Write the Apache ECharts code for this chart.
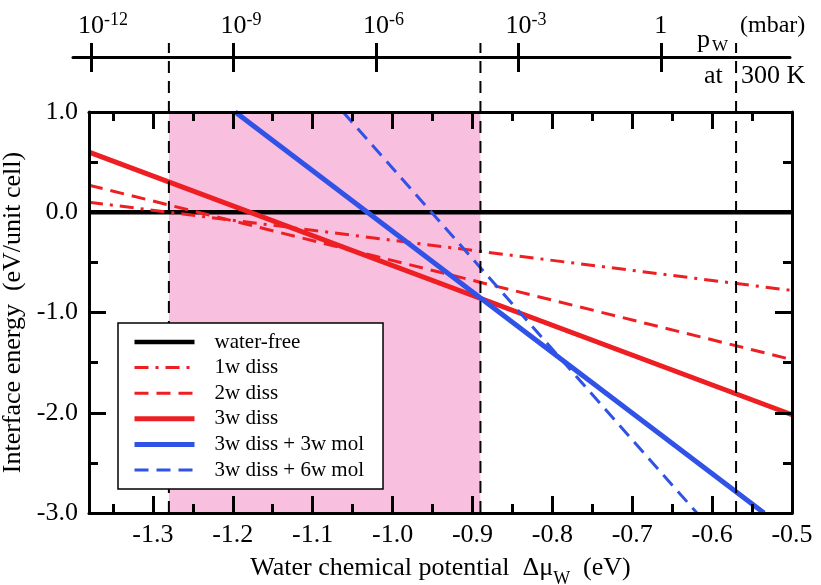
<!DOCTYPE html>
<html><head><meta charset="utf-8">
<script src="https://cdn.jsdelivr.net/npm/echarts@6/dist/echarts.min.js"></script>
<style>html,body{margin:0;padding:0;background:#fff}#c{width:821px;height:585px}</style>
</head><body><div id="c"></div>
<script>
// ---- data ----
const xRange = [-1.38, -0.5];
const yRange = [-3, 1];
const xMajorTicks = [-1.3, -1.2, -1.1, -1.0, -0.9, -0.8, -0.7, -0.6, -0.5];
const xMinorTicks = [-1.35, -1.25, -1.15, -1.05, -0.95, -0.85, -0.75, -0.65, -0.55];
const yMajorTicks = [1, 0, -1, -2, -3];
const yMinorTicks = [0.5, -0.5, -1.5, -2.5];
const pressureRange = [-12.38, 2.72];          // log10(p_w / mbar) at 300 K
const pressureExponents = [-12, -9, -6, -3, 0];
const stableRange = [-1.28, -0.89];
const markerLines = [-1.28, -0.89, -0.57];
const seriesNames = ['water-free', '1w diss', '2w diss', '3w diss', '3w diss + 3w mol', '3w diss + 6w mol'];
const waterFree = [[-1.38, 0], [-0.5, 0]];
const diss1 = [[-1.38, 0.10], [-0.5, -0.78]];
const diss2 = [[-1.38, 0.27], [-0.5, -1.47]];
const diss3 = [[-1.38, 0.60], [-0.5, -2.02]];
const diss3mol3 = [[-1.197, 1.0], [-0.535, -3.0]];
const diss3mol6 = [[-1.062, 1.0], [-0.619, -3.0]];

// ---- styling ----
const FONT = 'Liberation Serif';
const RED = '#ee1f23';
const BLUE = '#3052e6';
const PINK = '#f9bfdf';

const chart = echarts.init(document.getElementById('c'), null, {renderer: 'canvas'});

function xAx(o) {
  return Object.assign({
    type: 'value', gridIndex: 0, min: xRange[0], max: xRange[1], z: 5,
    splitLine: {show: false},
    axisLine: {show: false, onZero: false, lineStyle: {color: '#000', width: 3}},
    axisTick: {show: true, inside: true, length: 17, lineStyle: {color: '#000', width: 3}},
    axisLabel: {show: false}
  }, o);
}
function yAx(o) {
  return Object.assign({
    type: 'value', gridIndex: 0, min: yRange[0], max: yRange[1], z: 5,
    splitLine: {show: false},
    axisLine: {show: false, onZero: false, lineStyle: {color: '#000', width: 3}},
    axisTick: {show: true, inside: true, length: 17, lineStyle: {color: '#000', width: 3}},
    axisLabel: {show: false}
  }, o);
}
const lineTick = (len, vals, inside) => ({show: true, inside: inside !== false, length: len, customValues: vals, lineStyle: {color: '#000', width: 3}});

const option = {
  backgroundColor: '#fff',
  animation: false,
  grid: [
    {left: 89, right: 29, top: 112, bottom: 72, containLabel: false, outerBoundsMode: 'none'},
    {left: 73, right: 31, top: 57, height: 1, containLabel: false, outerBoundsMode: 'none'},
    {left: 89, right: 29, top: 43, bottom: 72, containLabel: false, outerBoundsMode: 'none'}
  ],
  xAxis: [
    xAx({position: 'bottom', axisLine: {show: true, onZero: false, lineStyle: {color: '#000', width: 3}},
      axisTick: lineTick(17, xMajorTicks),
      axisLabel: {show: true, customValues: xMajorTicks, formatter: v => v.toFixed(1), fontFamily: FONT, fontSize: 26, lineHeight: 26, color: '#000', margin: 9},
      name: '{a|Water chemical potential  Δμ}{s|W}{a|  (eV)}',
      nameLocation: 'middle', nameGap: 35,
      nameTextStyle: {rich: {
        a: {fontFamily: FONT, fontSize: 26, lineHeight: 40, color: '#000'},
        s: {fontFamily: FONT, fontSize: 18, lineHeight: 18, verticalAlign: 'bottom', color: '#000'}
      }}
    }),
    xAx({position: 'bottom', axisTick: lineTick(9, xMinorTicks)}),
    xAx({position: 'top', axisLine: {show: true, onZero: false, lineStyle: {color: '#000', width: 3}}, axisTick: lineTick(17, xMajorTicks)}),
    xAx({position: 'top', axisTick: lineTick(9, xMinorTicks)}),
    // pressure axis (top)
    {
      type: 'value', gridIndex: 1, position: 'top', min: pressureRange[0], max: pressureRange[1],
      splitLine: {show: false},
      axisLine: {show: true, onZero: false, lineStyle: {color: '#000', width: 3}},
      axisTick: lineTick(14, pressureExponents, false),
      axisLabel: {
        show: true, customValues: pressureExponents, margin: 16,
        formatter: v => {
          const e = Math.round(v);
          if (e === 0) return '{b|1}';
          const s = String(e);
          return '{' + (s.length === 3 ? 'p3' : 'p2') + '|10}{sup|' + s + '}';
        },
        rich: {
          b: {fontFamily: FONT, fontSize: 26, lineHeight: 30, color: '#000'},
          p3: {fontFamily: FONT, fontSize: 26, lineHeight: 30, color: '#000', padding: [0, 0, 0, 24]},
          p2: {fontFamily: FONT, fontSize: 26, lineHeight: 30, color: '#000', padding: [0, 0, 0, 15]},
          sup: {fontFamily: FONT, fontSize: 18, lineHeight: 18, verticalAlign: 'top', color: '#000'}
        }
      }
    },
    {
      type: 'value', gridIndex: 1, position: 'top', min: pressureRange[0], max: pressureRange[1],
      splitLine: {show: false}, axisLine: {show: false, onZero: false},
      axisTick: lineTick(15, pressureExponents, true), axisLabel: {show: false}
    },
    // overlay axis for the vertical marker lines
    {type: 'value', gridIndex: 2, min: xRange[0], max: xRange[1], show: false}
  ],
  yAxis: [
    yAx({position: 'left', axisLine: {show: true, onZero: false, lineStyle: {color: '#000', width: 3}},
      axisTick: lineTick(17, yMajorTicks),
      axisLabel: {show: true, customValues: yMajorTicks, formatter: v => v.toFixed(1), fontFamily: FONT, fontSize: 26, color: '#000', margin: 11},
      name: 'Interface energy  (eV/unit cell)', nameLocation: 'middle', nameGap: 60,
      nameTextStyle: {fontFamily: FONT, fontSize: 26, color: '#000'}
    }),
    yAx({position: 'left', axisTick: lineTick(9, yMinorTicks)}),
    yAx({position: 'right', axisLine: {show: true, onZero: false, lineStyle: {color: '#000', width: 3}}, axisTick: lineTick(17, yMajorTicks)}),
    yAx({position: 'right', axisTick: lineTick(9, yMinorTicks)}),
    {type: 'value', gridIndex: 1, min: 0, max: 1, show: false},
    {type: 'value', gridIndex: 2, min: 0, max: 1, show: false}
  ],
  legend: {
    data: seriesNames, orient: 'vertical', left: 118, top: 323,
    itemWidth: 60, itemHeight: 14, itemGap: 1.6,
    padding: [7, 19, 7, 14],
    backgroundColor: '#fff', borderColor: '#000', borderWidth: 1.5, borderRadius: 0,
    itemStyle: {opacity: 0},
    lineStyle: {width: 'inherit', type: 'inherit'},
    textStyle: {fontFamily: FONT, fontSize: 21, lineHeight: 24, color: '#000', padding: [0, 0, 0, 15]},
    selectedMode: false
  },
  series: [
    {name: seriesNames[0], type: 'line', data: waterFree, symbol: 'none', z: 2,
      lineStyle: {color: '#000', width: 4.5}, itemStyle: {color: '#000'},
      markArea: {silent: true, itemStyle: {color: PINK, borderWidth: 0},
        data: [[{xAxis: stableRange[0]}, {xAxis: stableRange[1]}]]}},
    {name: seriesNames[1], type: 'line', data: diss1, symbol: 'none', z: 2,
      lineStyle: {color: RED, width: 3, type: [14, 7, 3, 7]}, itemStyle: {color: RED}},
    {name: seriesNames[2], type: 'line', data: diss2, symbol: 'none', z: 2,
      lineStyle: {color: RED, width: 3, type: [14, 8]}, itemStyle: {color: RED}},
    {name: seriesNames[3], type: 'line', data: diss3, symbol: 'none', z: 2,
      lineStyle: {color: RED, width: 5}, itemStyle: {color: RED}},
    {name: seriesNames[4], type: 'line', data: diss3mol3, symbol: 'none', z: 2,
      lineStyle: {color: BLUE, width: 5}, itemStyle: {color: BLUE}},
    {name: seriesNames[5], type: 'line', data: diss3mol6, symbol: 'none', z: 2,
      lineStyle: {color: BLUE, width: 3, type: [14, 8]}, itemStyle: {color: BLUE}}
  ].concat(markerLines.map((x, i) => ({
    name: 'marker' + i, type: 'line', xAxisIndex: 6, yAxisIndex: 5, symbol: 'none', z: 3, silent: true,
    data: [[x, 0], [x, 1]],
    lineStyle: {color: '#000', width: 2, type: [12, 8]}
  }))),
  graphic: [
    {type: 'text', left: 697, top: 27, silent: true, style: {text: 'p', fontFamily: FONT, fontSize: 26, fill: '#000'}},
    {type: 'text', left: 712, top: 38, silent: true, style: {text: 'W', fontFamily: FONT, fontSize: 17, fill: '#000'}},
    {type: 'text', left: 740, top: 14, silent: true, style: {text: '(mbar)', fontFamily: FONT, fontSize: 24, fill: '#000'}},
    {type: 'text', left: 704, top: 63, silent: true, style: {text: 'at', fontFamily: FONT, fontSize: 26, fill: '#000'}},
    {type: 'text', left: 741, top: 63, silent: true, style: {text: '300 K', fontFamily: FONT, fontSize: 26, fill: '#000'}}
  ]
};
option.series.forEach((s, i) => { if (i < 6) { s.xAxisIndex = 0; s.yAxisIndex = 0; } });
chart.setOption(option);
</script>
</body></html>
